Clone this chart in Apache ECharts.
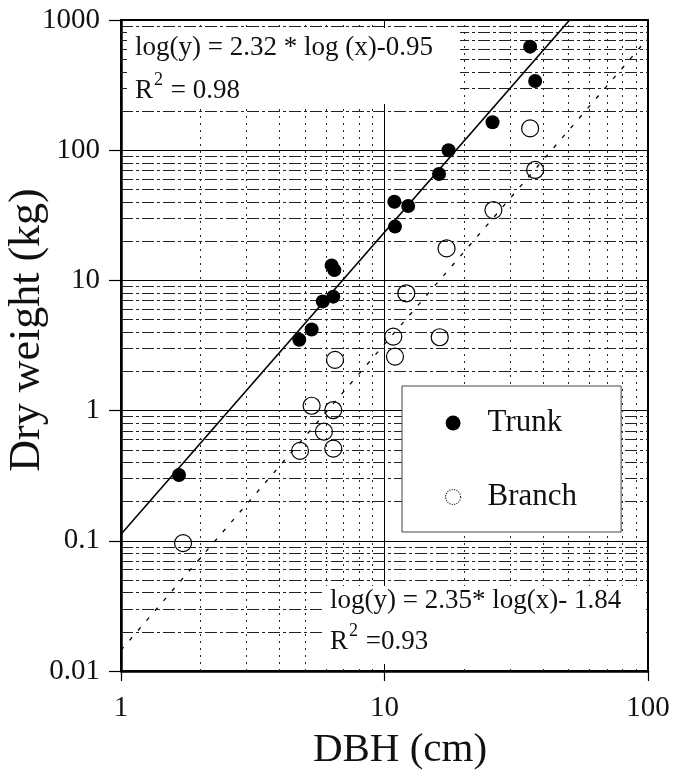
<!DOCTYPE html>
<html>
<head>
<meta charset="utf-8">
<script src="https://cdn.jsdelivr.net/npm/echarts@6/dist/echarts.min.js"></script>
<style>
html,body{margin:0;padding:0;background:#fff;}
#chart{width:674px;height:773px;}
</style>
</head>
<body>
<div id="chart"></div>
<script>
// ---- data ----
const trunkDBH    = [1.66, 4.75, 5.29, 5.83, 6.39, 6.30, 6.45, 10.9, 10.96, 12.3, 16.1, 17.5, 25.7, 35.7, 37.3];
const trunkWeight = [0.32, 3.5, 4.2, 6.9, 7.5, 13.0, 12.0, 40.2, 25.9, 37.3, 65.6, 100, 164, 624, 340];
const branchDBH    = [1.72, 4.78, 5.29, 5.89, 6.39, 6.39, 6.49, 10.96, 10.8, 12.1, 16.2, 17.2, 25.9, 35.7, 37.3];
const branchWeight = [0.096, 0.49, 1.09, 0.69, 1.01, 0.51, 2.45, 2.6, 3.7, 7.96, 3.66, 17.6, 34.7, 147, 70.5];

// fitted regressions: log(y) = slope*log(x) + intercept
const trunkFit  = [2.32, -0.95];
const branchFit = [2.35, -1.84];
const fitRange  = [1, 100];

// axes
const xTickLabels = ['1', '10', '100'];
const yTickLabels = ['0.01', '0.1', '1', '10', '100', '1000'];
const minorMult = [2, 3, 4, 5, 6, 7, 8, 9];
const xDecades = [1, 10];
const yDecades = [0.01, 0.1, 1, 10, 100];

const xMinor = [];
xDecades.forEach(d => minorMult.forEach(m => xMinor.push(+(d * m).toPrecision(6))));
const yMinor = [];
yDecades.forEach(d => minorMult.forEach(m => yMinor.push(+(d * m).toPrecision(6))));

function fitLine(f) {
  return fitRange.map(x => [x, Math.pow(10, f[0] * Math.log10(x) + f[1])]);
}
function zip(a, b) { return a.map((v, i) => [v, b[i]]); }

const FONT = 'Liberation Serif';
const chart = echarts.init(document.getElementById('chart'), null, {renderer: 'canvas'});

const option = {
  backgroundColor: '#fff',
  animation: false,
  grid: {left: 121, right: 26, top: 20, bottom: 102, show: true, borderColor: '#000', borderWidth: 2, containLabel: false},
  xAxis: {
    type: 'log', logBase: 10, min: 1, max: 100, splitNumber: 2,
    axisLine: {show: true, lineStyle: {color: '#000', width: 2.5}},
    axisTick: {show: true, inside: false, length: 10, lineStyle: {color: '#000', width: 1.2}},
    axisLabel: {margin: 23, fontFamily: FONT, fontSize: 29, color: '#111',
      formatter: v => xTickLabels[Math.round(Math.log10(v))]},
    splitLine: {show: true, lineStyle: {color: '#000', width: 1}},
    minorTick: {show: false}
  },
  yAxis: {
    type: 'log', logBase: 10, min: 0.01, max: 1000, splitNumber: 5,
    axisLine: {show: true, lineStyle: {color: '#000', width: 2.5}},
    axisTick: {show: true, inside: false, length: 12, lineStyle: {color: '#000', width: 1.2}},
    axisLabel: {margin: 21, fontFamily: FONT, fontSize: 29, color: '#111',
      formatter: v => yTickLabels[Math.round(Math.log10(v)) + 2]},
    splitLine: {show: true, lineStyle: {color: '#000', width: 1}}
  },
  legend: {
    orient: 'vertical', left: 402, top: 386,
    padding: [19, 44, 17, 43],
    itemGap: 38, itemWidth: 15, itemHeight: 15,
    backgroundColor: '#fff', borderColor: '#444', borderWidth: 1, borderRadius: 0,
    textStyle: {fontFamily: FONT, fontSize: 31, color: '#111', lineHeight: 36, padding: [0, 0, 0, 22]},
    z: 6,
    data: [
      {name: 'Trunk', icon: 'circle', itemStyle: {color: '#000', borderWidth: 0}},
      {name: 'Branch', icon: 'circle', itemStyle: {color: 'rgba(0,0,0,0)', borderColor: '#333', borderWidth: 1.2, borderType: 'dotted'}}
    ]
  },
  graphic: [
    {type: 'rect', z: 3, shape: {x: 127, y: 28, width: 333, height: 76}, style: {fill: '#fff'}},
    {type: 'rect', z: 3, shape: {x: 322, y: 586, width: 321, height: 78}, style: {fill: '#fff'}},
    {type: 'text', z: 4, x: 135, y: 48, style: {text: 'log(y) = 2.32 * log (x)-0.95', font: '27px "Liberation Serif"', fill: '#111', textVerticalAlign: 'middle'}},
    {type: 'text', z: 4, x: 135, y: 91, style: {text: 'R', font: '27px "Liberation Serif"', fill: '#111', textVerticalAlign: 'middle'}},
    {type: 'text', z: 4, x: 154, y: 80, style: {text: '2', font: '18px "Liberation Serif"', fill: '#111', textVerticalAlign: 'middle'}},
    {type: 'text', z: 4, x: 164, y: 91, style: {text: ' = 0.98', font: '27px "Liberation Serif"', fill: '#111', textVerticalAlign: 'middle'}},
    {type: 'text', z: 4, x: 330, y: 601, style: {text: 'log(y) = 2.35* log(x)- 1.84', font: '27px "Liberation Serif"', fill: '#111', textVerticalAlign: 'middle'}},
    {type: 'text', z: 4, x: 330, y: 642, style: {text: 'R', font: '27px "Liberation Serif"', fill: '#111', textVerticalAlign: 'middle'}},
    {type: 'text', z: 4, x: 349, y: 631, style: {text: '2', font: '18px "Liberation Serif"', fill: '#111', textVerticalAlign: 'middle'}},
    {type: 'text', z: 4, x: 359, y: 642, style: {text: ' =0.93', font: '27px "Liberation Serif"', fill: '#111', textVerticalAlign: 'middle'}},
    {type: 'text', z: 4, x: 400, y: 750, style: {text: 'DBH (cm)', font: '41px "Liberation Serif"', fill: '#111', textAlign: 'center', textVerticalAlign: 'middle'}},
    {type: 'text', z: 4, x: 27, y: 330, rotation: Math.PI / 2, style: {text: 'Dry weight (kg)', font: '44px "Liberation Serif"', fill: '#111', textAlign: 'center', textVerticalAlign: 'middle'}}
  ],
  series: [
    {
      name: 'minorGrid', type: 'scatter', data: [], z: 1, silent: true,
      markLine: {
        z: 1, silent: true, symbol: ['none', 'none'], label: {show: false}, animation: false,
        emphasis: {disabled: true},
        data: [
          ...yMinor.map(v => ({yAxis: v, lineStyle: {color: '#222', width: 1, type: [12, 3, 3, 3]}})),
          ...xMinor.map(v => ({xAxis: v, lineStyle: {color: '#222', width: 1, type: [2, 5]}}))
        ]
      }
    },
    {
      name: 'trunkFit', type: 'line', data: fitLine(trunkFit), z: 8, clip: true,
      showSymbol: false, symbol: 'none', lineStyle: {color: '#000', width: 1.6}
    },
    {
      name: 'branchFit', type: 'line', data: fitLine(branchFit), z: 8, clip: true,
      showSymbol: false, symbol: 'none', lineStyle: {color: '#000', width: 1.3, type: [4, 9]}
    },
    {
      name: 'Trunk', type: 'scatter', data: zip(trunkDBH, trunkWeight), z: 10,
      symbol: 'circle', symbolSize: 14, itemStyle: {color: '#000', opacity: 1}
    },
    {
      name: 'Branch', type: 'scatter', data: zip(branchDBH, branchWeight), z: 10,
      symbol: 'circle', symbolSize: 17,
      itemStyle: {color: 'rgba(0,0,0,0)', borderColor: '#000', borderWidth: 1.2, opacity: 1}
    }
  ]
};
chart.setOption(option);
</script>
</body>
</html>
